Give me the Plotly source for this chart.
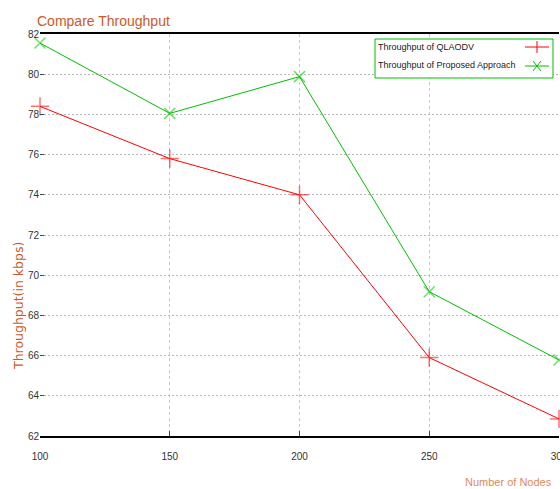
import plotly.graph_objects as go

nodes = [100, 150, 200, 250, 300]
qlaodv = [78.4, 75.8, 74.0, 65.9, 62.85]
proposed = [81.55, 78.05, 79.88, 69.18, 65.78]
series_names = ["Throughput of QLAODV", "Throughput of Proposed Approach"]
x_ticks = [100, 150, 200, 250, 300]
y_ticks = [62, 64, 66, 68, 70, 72, 74, 76, 78, 80, 82]

RED = "#ff0000"
GREEN = "#00c000"
NARROW = "Liberation Sans, Arial, sans-serif"

fig = go.Figure()
fig.add_trace(go.Scatter(
    x=nodes, y=qlaodv, mode="lines+markers", name=series_names[0],
    line=dict(color=RED, width=1),
    marker=dict(symbol="cross-thin", size=13, opacity=0.55,
                line=dict(color=RED, width=1.5)),
    showlegend=False, cliponaxis=False))
fig.add_trace(go.Scatter(
    x=nodes, y=proposed, mode="lines+markers", name=series_names[1],
    line=dict(color=GREEN, width=1),
    marker=dict(symbol="x-thin", size=11, opacity=0.55,
                line=dict(color=GREEN, width=1.5)),
    showlegend=False, cliponaxis=False))

L, R, T, B = 40, 1, 34, 53
W, H = 560, 489
pw, ph = W - L - R, H - T - B


def px(xp):
    return (xp - L) / pw


def py(yp):
    return (H - B - yp) / ph


shapes = [
    dict(type="rect", xref="paper", yref="paper",
         x0=px(375), x1=px(553), y0=py(78), y1=py(39),
         line=dict(color=GREEN, width=1), fillcolor="white", layer="above"),
    # legend sample lines
    dict(type="line", xref="paper", yref="paper", x0=px(525), x1=px(549),
         y0=py(47), y1=py(47), line=dict(color=RED, width=1), layer="above"),
    dict(type="line", xref="paper", yref="paper", x0=px(537), x1=px(537),
         y0=py(41), y1=py(53), line=dict(color=RED, width=1), layer="above"),
    dict(type="line", xref="paper", yref="paper", x0=px(525), x1=px(549),
         y0=py(66), y1=py(66), line=dict(color=GREEN, width=1), layer="above"),
    dict(type="line", xref="paper", yref="paper", x0=px(533), x1=px(541),
         y0=py(61), y1=py(71), line=dict(color=GREEN, width=1), layer="above"),
    dict(type="line", xref="paper", yref="paper", x0=px(533), x1=px(541),
         y0=py(71), y1=py(61), line=dict(color=GREEN, width=1), layer="above"),
]

annotations = [
    dict(text=series_names[0], xref="paper", yref="paper", x=px(376), y=py(47),
         xanchor="left", yanchor="middle", showarrow=False,
         font=dict(family=NARROW, size=9, color="#222")),
    dict(text=series_names[1], xref="paper", yref="paper", x=px(376), y=py(65),
         xanchor="left", yanchor="middle", showarrow=False,
         font=dict(family=NARROW, size=9, color="#222")),
    dict(text="Throughput(in kbps)", xref="paper", yref="paper", x=px(18), y=py(306),
         xanchor="center", yanchor="middle", textangle=-90, showarrow=False,
         font=dict(family="DejaVu Sans, sans-serif", size=12.5, color="#cc5a28")),
    dict(text="Number of Nodes", xref="paper", yref="paper", x=px(508), y=py(482),
         xanchor="center", yanchor="middle", showarrow=False,
         font=dict(family=NARROW, size=11, color="#e08a5a")),
    dict(text="Compare Throughput", xref="paper", yref="paper", x=px(35), y=py(21),
         xanchor="left", yanchor="middle", showarrow=False,
         font=dict(family=NARROW, size=14, color="#cc5a28")),
]

fig.update_layout(
    width=W, height=H,
    margin=dict(l=L, r=R, t=T, b=B, pad=0, autoexpand=False),
    paper_bgcolor="white", plot_bgcolor="white",
    shapes=shapes, annotations=annotations,
    xaxis=dict(range=[100, 300], tickvals=x_ticks, ticktext=[str(v) for v in x_ticks],
               showgrid=True, gridcolor="#c8c8c8", griddash="3px,3px", gridwidth=1,
               showline=True, linecolor="black", linewidth=1.5, mirror=True,
               ticks="inside", ticklen=5, tickcolor="#444", automargin=False,
               zeroline=False, tickfont=dict(family=NARROW, size=10, color="#333"),
               ticklabelstandoff=10, ticklabeloverflow="allow"),
    yaxis=dict(range=[62, 82], tickvals=y_ticks, automargin=False,
               showgrid=True, gridcolor="#b8b8b8", griddash="2px,2px", gridwidth=1,
               showline=False, ticks="inside", ticklen=4, tickcolor="#444",
               zeroline=False, tickfont=dict(family=NARROW, size=10, color="#333"),
               ticklabeloverflow="allow"),
)

fig.write_html(
    "out.html",
    config={"displayModeBar": False},
    post_script="document.body.style.margin='0';document.body.style.overflow='hidden';",
)
